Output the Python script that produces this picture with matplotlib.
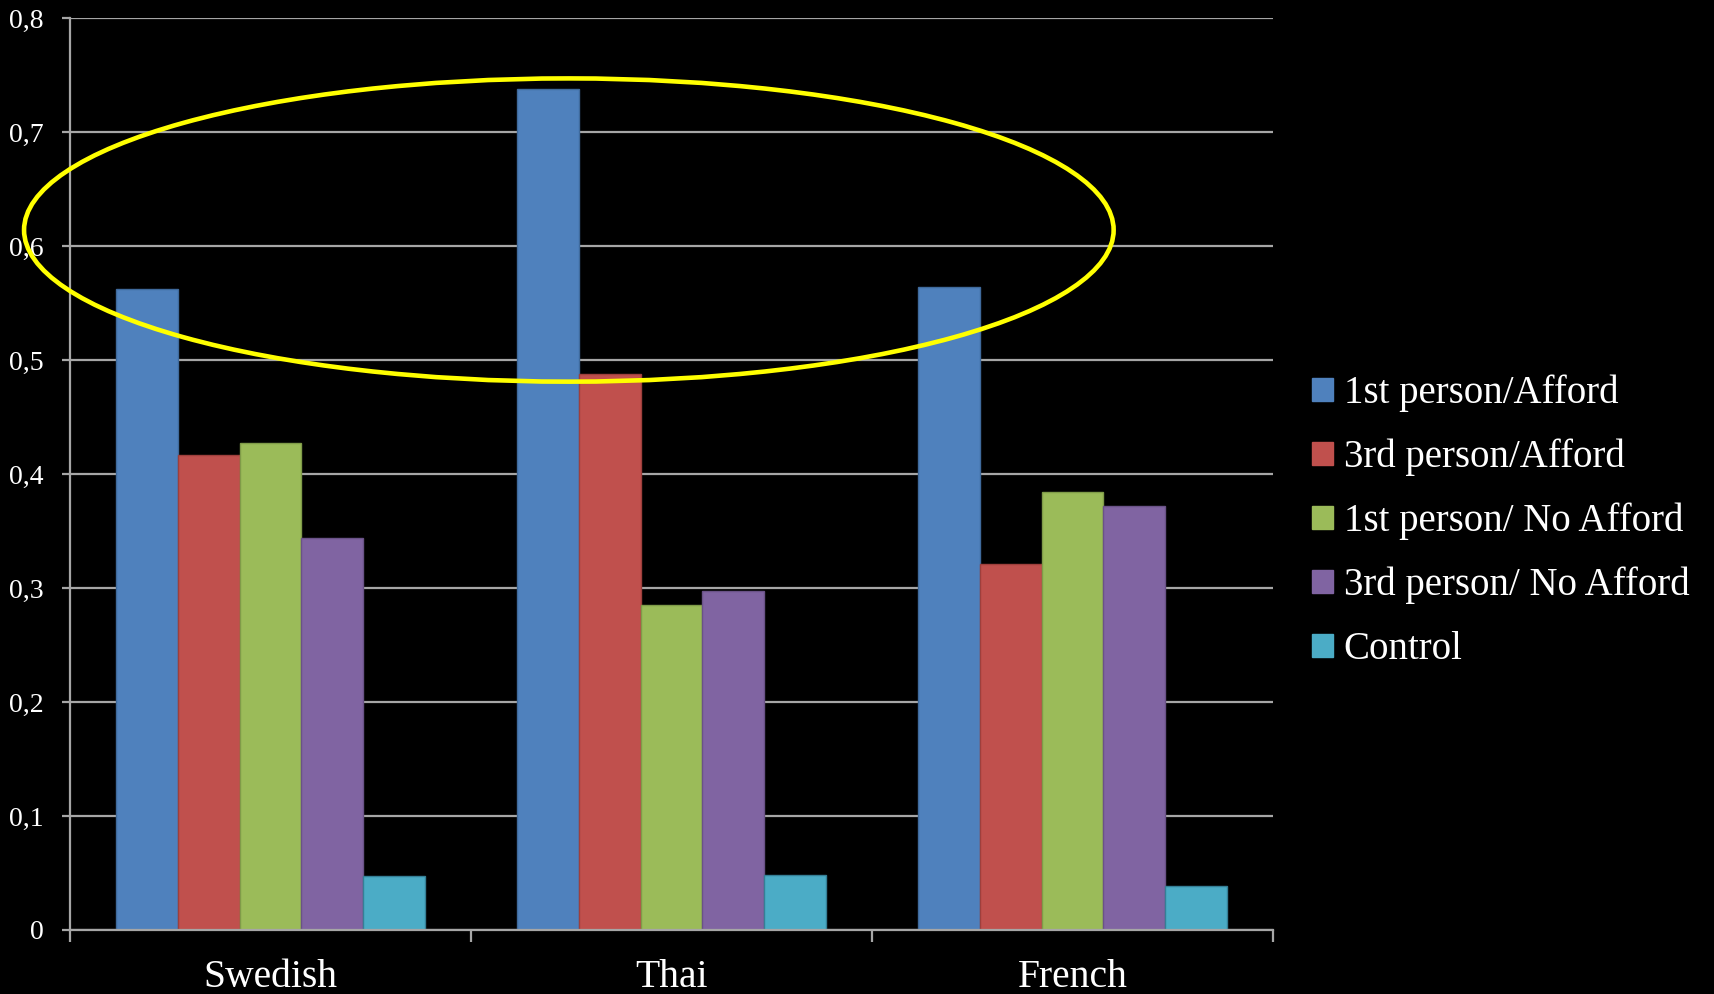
import matplotlib
matplotlib.use("Agg")
import matplotlib.pyplot as plt
import numpy as np
from matplotlib.patches import Ellipse, Patch

categories = ["Swedish", "Thai", "French"]
series = ["1st person/Afford", "3rd person/Afford", "1st person/ No Afford",
          "3rd person/ No Afford", "Control"]
values = {
    "1st person/Afford":     [0.562, 0.738, 0.564],
    "3rd person/Afford":     [0.417, 0.488, 0.321],
    "1st person/ No Afford": [0.427, 0.285, 0.384],
    "3rd person/ No Afford": [0.344, 0.297, 0.372],
    "Control":               [0.047, 0.048, 0.039],
}
colors = ["#4F81BD", "#C0504D", "#9BBB59", "#8064A2", "#4BACC6"]
edges = ["#3f6a9c", "#9e3f3c", "#7f9b48", "#6a5287", "#357f96"]
yticks = [0, 0.1, 0.2, 0.3, 0.4, 0.5, 0.6, 0.7, 0.8]
ytick_labels = ["0", "0,1", "0,2", "0,3", "0,4", "0,5", "0,6", "0,7", "0,8"]

plt.rcParams['font.family'] = ['Liberation Serif', 'DejaVu Serif']

fig = plt.figure(figsize=(17.15, 9.94), dpi=100, facecolor="black")
ax = fig.add_axes([0.0408, 0.0644, 0.7015, 0.9175], facecolor="black")

x = np.arange(len(categories))
bw = 0.154
n = len(series)
for i, s in enumerate(series):
    ax.bar(x + (i - (n - 1) / 2) * bw, values[s], width=bw, color=colors[i],
           edgecolor=edges[i], linewidth=1, label=s, zorder=3)

ax.set_xlim(-0.5, 2.5)
ax.set_ylim(0, 0.8)
ax.set_yticks(yticks)
ax.set_yticklabels(ytick_labels)
ax.yaxis.grid(True, color="#a6a6a6", linewidth=1.6, zorder=0)
ax.set_axisbelow(True)

ax.set_xticks(x)
ax.set_xticklabels(categories)
ax.set_xticks([-0.5, 0.5, 1.5, 2.5], minor=True)
ax.tick_params(axis="x", which="major", length=0, pad=21, labelsize=28.5, colors="white")
ax.tick_params(axis="x", which="minor", length=8.6, width=1.6, color="#a6a6a6")
ax.tick_params(axis="y", length=5.8, width=1.6, color="#a6a6a6", pad=13,
               labelsize=20, labelcolor="white")

for sp in ["top", "right"]:
    ax.spines[sp].set_visible(False)
for sp in ["left", "bottom"]:
    ax.spines[sp].set_color("#a6a6a6")
    ax.spines[sp].set_linewidth(1.6)
    ax.spines[sp].set_zorder(4)

ell = Ellipse((0.744, 0.614), 2.717, 0.266, fill=False, edgecolor="#FFFF00",
              linewidth=3.3, clip_on=False, zorder=5)
ax.add_patch(ell)

handles = [Patch(facecolor=colors[i], edgecolor=colors[i]) for i in range(n)]
leg = fig.legend(handles, series, loc="center left", bbox_to_anchor=(0.7535, 0.4755),
                 frameon=False, fontsize=28, handlelength=0.54, handleheight=0.54,
                 handletextpad=0.28, labelspacing=0.68, borderpad=0)
for t in leg.get_texts():
    t.set_color("white")

fig.savefig("out.png", dpi=100, facecolor="black")
